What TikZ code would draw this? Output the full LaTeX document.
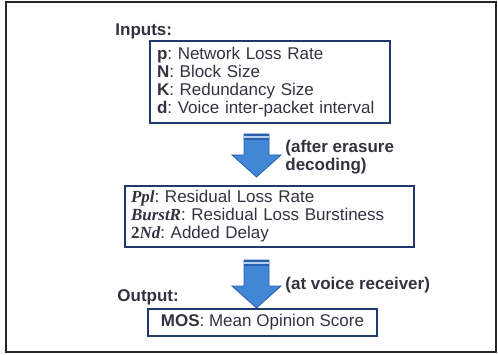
\documentclass[tikz,border=0pt]{standalone}
\usepackage{fontspec}
\setmainfont{Liberation Sans}
\newfontfamily\symfont{Liberation Serif}
\definecolor{boxblue}{RGB}{31,56,110}
\definecolor{txtgray}{RGB}{51,51,64}
\definecolor{arrowfill}{RGB}{66,135,214}
\definecolor{arrowedge}{RGB}{40,95,170}
\newcommand{\varsym}[1]{{\symfont\bfseries\itshape #1}}
\frenchspacing

\begin{document}
\begin{tikzpicture}[x=0.5pt, y=0.5pt, font=\fontsize{8.5}{9}\selectfont, text=txtgray,
    infobox/.style={draw=boxblue, line width=1pt, fill=white, align=left, inner ysep=2pt},
    headlabel/.style={font=\fontsize{8.5}{9}\selectfont\bfseries, anchor=west, align=left, inner sep=0pt},
    pics/blockarrow/.style={code={
        \fill[arrowfill, draw=arrowedge, line width=0.4pt] (-12.5,0) -- (12.5,0) -- (12.5,-#1) -- (24.5,-#1)
             -- (0,-#1-22) -- (-24.5,-#1) -- (-12.5,-#1) -- cycle;
        \draw[arrowedge, line width=1pt] (-12.5,-1) -- (12.5,-1);
        \draw[white!60!arrowfill, line width=1pt] (-12.5,-3) -- (12.5,-3);
        \draw[arrowedge, line width=0.6pt] (-12.5,-5) -- (12.5,-5);
    }}]
    \useasboundingbox (0,0) rectangle (498,354);
    \draw[black!85, line width=0.9pt] (6,2) rectangle (496,352);

    % inputs
    \node[headlabel] (inputs) at (115,323) {Inputs:};
    \node[infobox, text width=113pt, inner xsep=3.5pt, minimum height=41pt] (inbox) at (270,272)
        {\textbf{p}: Network Loss Rate\\ \textbf{N}: Block Size\\ \textbf{K}: Redundancy Size\\ \textbf{d}: Voice inter-packet interval};

    \pic at (256.5,220) {blockarrow=21};
    \node[headlabel] (erasure) at (285,197) {(after erasure\\decoding)};

    % residual parameters
    \node[infobox, text width=138.5pt, inner xsep=3pt, minimum height=30.5pt] (resbox) at (269.5,137.5)
        {\varsym{Ppl}: Residual Loss Rate\\ \varsym{BurstR}: Residual Loss Burstiness\\ {\symfont\bfseries 2}\varsym{Nd}: Added Delay};

    \pic at (256.5,94) {blockarrow=26};
    \node[headlabel] (receiver) at (285,69) {(at voice receiver)};

    % output
    \node[headlabel] (output) at (117,57) {Output:};
    \node[infobox, align=center, inner xsep=3pt, minimum width=114.5pt, minimum height=13.5pt] (mosbox) at (262.5,31.5)
        {\textbf{MOS}: Mean Opinion Score};
\end{tikzpicture}
\end{document}
